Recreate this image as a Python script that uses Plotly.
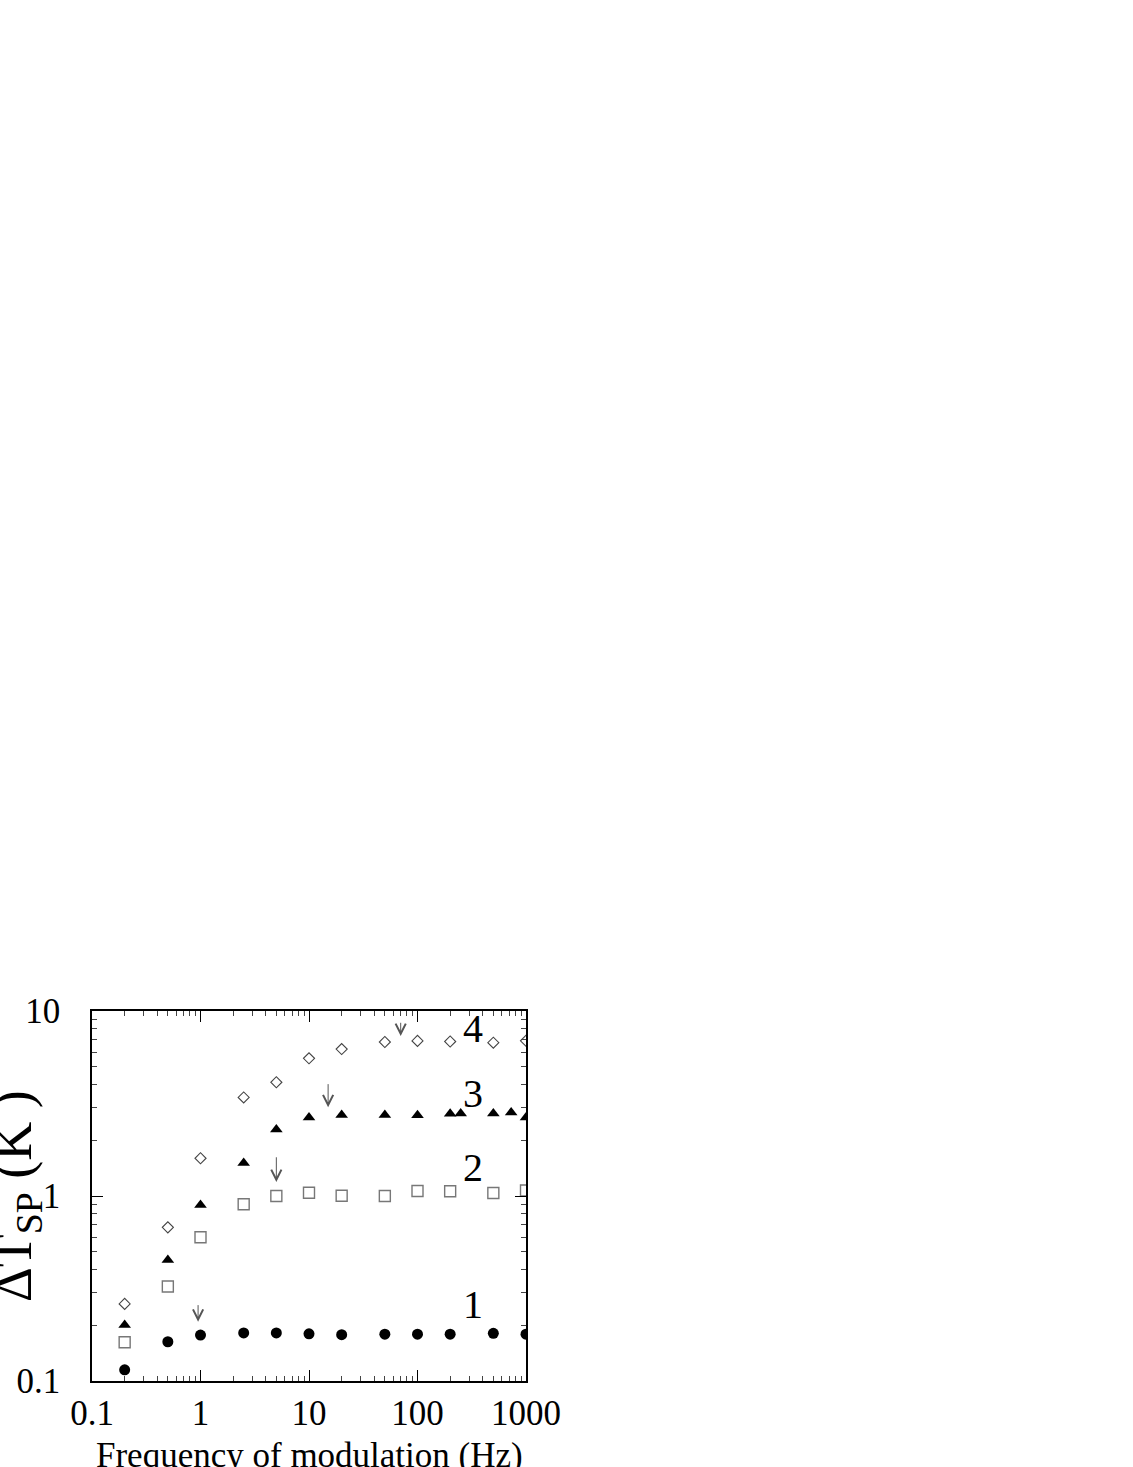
import numpy as np
import plotly.graph_objects as go

freq = [0.2, 0.5, 1, 2.5, 5, 10, 20, 50, 100, 200, 500, 1000]
freq_tri = [0.2, 0.5, 1, 2.5, 5, 10, 20, 50, 100, 200, 250, 500, 730, 1000]

dT_1 = [0.115, 0.163, 0.177, 0.182, 0.182, 0.180, 0.178, 0.179, 0.179, 0.179, 0.181, 0.179]
dT_2 = [0.162, 0.324, 0.598, 0.902, 1.0, 1.042, 1.004, 1.0, 1.065, 1.06, 1.038, 1.07]
dT_3 = [0.201, 0.451, 0.894, 1.51, 2.29, 2.66, 2.74, 2.74, 2.73, 2.78, 2.79, 2.79, 2.83, 2.66]
dT_4 = [0.261, 0.677, 1.60, 3.41, 4.12, 5.55, 6.23, 6.80, 6.89, 6.84, 6.74, 6.90]

# arrows: (freq, tip value, tail value)
arrow_x = [0.95, 5, 15, 70]
arrow_tip = [0.209, 1.19, 3.02, 7.33]
arrow_tail = [0.262, 1.65, 4.1, 8.8]

# curve numbers
label_txt = ["1", "2", "3", "4"]
label_x = [325, 325, 325, 325]
label_y = [0.258, 1.42, 3.6, 8.0]

serif = "Liberation Serif, Times New Roman, serif"

# minor tick positions 2..9 in each decade
x_minor = [m * 10.0 ** d for d in range(-1, 3) for m in range(2, 10)]
y_minor = [m * 10.0 ** d for d in range(-1, 1) for m in range(2, 10)]

fig = go.Figure()
fig.add_trace(go.Scatter(x=freq, y=dT_1, mode="markers",
                         marker=dict(symbol="circle", size=11, color="black")))
fig.add_trace(go.Scatter(x=freq, y=dT_2, mode="markers",
                         marker=dict(symbol="square-open", size=11, color="#777777",
                                     line=dict(width=1.4))))
fig.add_trace(go.Scatter(x=freq_tri, y=dT_3, mode="markers",
                         marker=dict(symbol="triangle-up", size=11, color="black")))
fig.add_trace(go.Scatter(x=freq, y=dT_4, mode="markers",
                         marker=dict(symbol="diamond-open", size=8.5, color="#444444",
                                     line=dict(width=1.1))))

for xa, yt, yb in zip(arrow_x, arrow_tip, arrow_tail):
    fig.add_annotation(x=np.log10(xa), y=np.log10(yt), ax=np.log10(xa), ay=np.log10(yb),
                       xref="x", yref="y", axref="x", ayref="y", text="",
                       showarrow=True, arrowhead=5, arrowsize=2, arrowwidth=1,
                       arrowcolor="#555555")

for t, xl, yl in zip(label_txt, label_x, label_y):
    fig.add_annotation(x=np.log10(xl), y=np.log10(yl), xref="x", yref="y", text=t,
                       showarrow=False, font=dict(family=serif, size=40, color="black"))

# y axis title (partly cut by the left edge, as in the original)
fig.add_annotation(x=-0.175, y=0.5, xref="paper", yref="paper",
                   text="ΔT<sub>SP</sub> (K )", textangle=-90, showarrow=False,
                   xanchor="center", yanchor="middle",
                   font=dict(family=serif, size=54, color="black"))

# x axis title, sitting low so its descenders run off the page like the original
fig.add_annotation(x=0.5, y=-0.2, xref="paper", yref="paper",
                   text="Frequency of modulation (Hz)", showarrow=False,
                   xanchor="center", yanchor="middle",
                   font=dict(family=serif, size=35, color="black"))

axis_common = dict(type="log", showline=True, linecolor="black", linewidth=1.5,
                   mirror="ticks", ticks="inside", ticklen=11, tickwidth=1,
                   tickcolor="black", showgrid=False, zeroline=False, automargin=False,
                   tickfont=dict(family=serif, size=35, color="black"))

fig.update_xaxes(range=[-1, 3], tickvals=[0.1, 1, 10, 100, 1000],
                 ticktext=["0.1", "1", "10", "100", "1000"],
                 minor=dict(tickvals=x_minor, ticks="inside", ticklen=5, tickwidth=1,
                            tickcolor="#444444", showgrid=False),
                 **axis_common)
fig.update_yaxes(range=[-1, 1], tickvals=[0.1, 1, 10], ticktext=["0.1", "1", "10"],
                 minor=dict(tickvals=y_minor, ticks="inside", ticklen=5, tickwidth=1,
                            tickcolor="#444444", showgrid=False),
                 ticklabelstandoff=23, **axis_common)

fig.update_layout(width=1133, height=1467, showlegend=False,
                  margin=dict(l=92, r=607, t=1011, b=86),
                  plot_bgcolor="white", paper_bgcolor="white")

fig.write_html("out.html", config={"displayModeBar": False},
               post_script="document.body.style.margin='0px';")
